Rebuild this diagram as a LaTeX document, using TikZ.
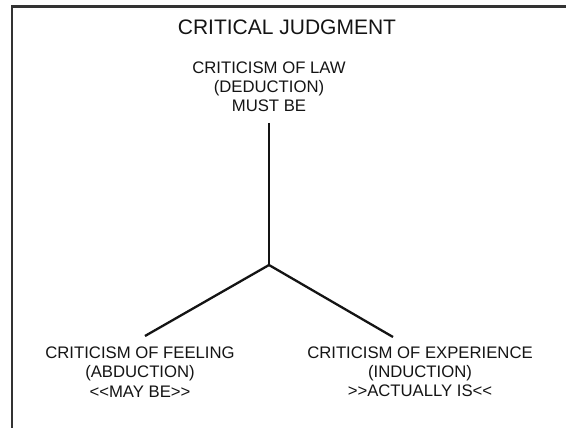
\documentclass[tikz,border=0pt]{standalone}
\usepackage{fontspec}
\setmainfont{Liberation Sans}
\begin{document}
\begin{tikzpicture}[x=1pt,y=-1pt,
  frame/.style={draw=black!80,line width=2.4pt},
  branch/.style={draw=black!92,line width=2.3pt},
  label/.style={align=center,inner sep=0pt,text=black!92,font=\fontsize{16.7}{19.2}\selectfont},
  titlestyle/.style={inner sep=0pt,text=black!92,font=\fontsize{21}{24}\selectfont}]
\useasboundingbox (0,0) rectangle (566,428);
\draw[frame] (12,428) -- (12,6.5) -- (566,6.5);
\node[titlestyle] (title) at (287,27) {CRITICAL JUDGMENT};
\node[label] (law) at (269,87) {CRITICISM OF LAW\\(DEDUCTION)\\MUST BE};
\node[label] (feeling) at (140,372) {CRITICISM OF FEELING\\(ABDUCTION)\\{<}{<}MAY BE{>}{>}};
\node[label] (experience) at (420,372) {CRITICISM OF EXPERIENCE\\(INDUCTION)\\{>}{>}ACTUALLY IS{<}{<}};
\coordinate (top) at (269,123);
\coordinate (j) at (269,265);
\coordinate (fe) at (145,336);
\coordinate (ex) at (393,337);
\draw[branch] (top) -- (j);
\draw[branch] (j) -- (fe);
\draw[branch] (j) -- (ex);
\end{tikzpicture}
\end{document}
